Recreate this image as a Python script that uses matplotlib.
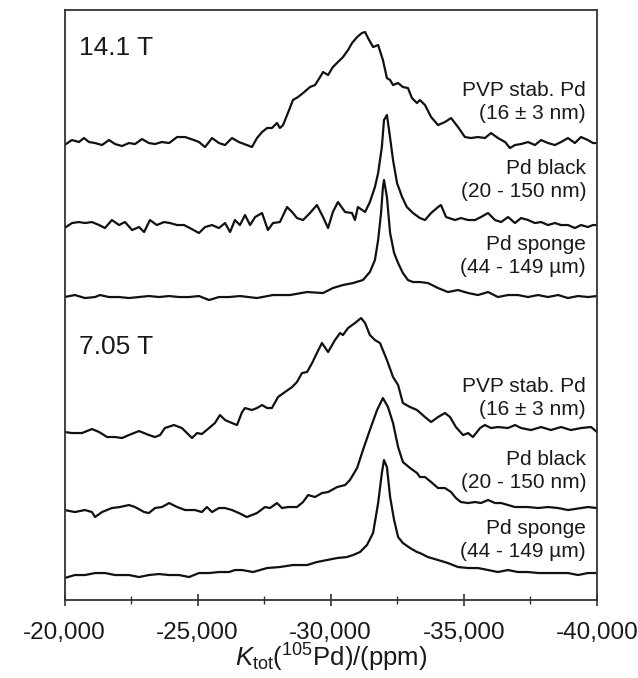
import matplotlib
matplotlib.use("Agg")
import matplotlib.pyplot as plt
from matplotlib.ticker import MultipleLocator, FuncFormatter

plt.rcParams['font.family'] = ['Liberation Sans', 'DejaVu Sans']
plt.rcParams['mathtext.fontset'] = 'custom'
plt.rcParams['mathtext.rm'] = 'Liberation Sans'
plt.rcParams['mathtext.it'] = 'Liberation Sans:italic'

# 14.1 T, PVP stabilised Pd (16 +- 3 nm)
pvp_hi_x = [-20000, -20280, -20540, -20730, -20920, -21150, -21410, -21670, -21900, -22160,
            -22420, -22650, -22910, -23170, -23400, -23660, -23930, -24230, -24530, -24860,
            -25050, -25280, -25540, -25800, -26030, -26290, -26550, -26850, -27040, -27230,
            -27420, -27610, -27790, -27980, -28090, -28210, -28390, -28580, -28770, -28960,
            -29220, -29410, -29600, -29710, -29900, -30080, -30270, -30460, -30650, -30800,
            -30990, -31170, -31290, -31400, -31590, -31780, -31960, -32110, -32230, -32340,
            -32530, -32710, -32900, -33050, -33240, -33350, -33540, -33770, -34030, -34290,
            -34520, -34780, -35040, -35270, -35530, -35790, -36020, -36280, -36550, -36730,
            -36920, -37150, -37410, -37670, -37900, -38160, -38420, -38650, -38910, -39170,
            -39400, -39660, -39850, -40000]
pvp_hi_y = [455, 460, 458, 462, 458, 457, 455, 460, 456, 454,
            457, 456, 461, 457, 456, 458, 457, 463, 463, 460,
            458, 453, 462, 457, 455, 462, 458, 455, 453, 462,
            468, 472, 472, 477, 472, 475, 487, 500, 503, 507,
            513, 515, 523, 528, 525, 533, 538, 543, 550, 557,
            563, 567, 568, 562, 553, 555, 540, 522, 520, 515,
            517, 513, 512, 502, 497, 500, 495, 483, 475, 478,
            482, 473, 463, 462, 463, 462, 467, 462, 458, 452,
            455, 456, 458, 455, 460, 457, 455, 458, 462, 457,
            463, 460, 457, 457]

# 14.1 T, Pd black (20 - 150 nm)
black_hi_x = [-20000, -20280, -20540, -20770, -21030, -21300, -21520, -21780, -22050, -22270,
              -22540, -22800, -22990, -23210, -23470, -23740, -23960, -24230, -24490, -24710,
              -25050, -25280, -25540, -25800, -26030, -26220, -26400, -26590, -26780, -26970,
              -27160, -27420, -27640, -27830, -28090, -28360, -28550, -28730, -28960, -29220,
              -29480, -29710, -29900, -30080, -30270, -30540, -30800, -30910, -31020, -31290,
              -31470, -31660, -31780, -31920, -32000, -32110, -32190, -32340, -32490, -32680,
              -32860, -33090, -33350, -33540, -33770, -34030, -34140, -34330, -34670, -34890,
              -35160, -35420, -35640, -35910, -36170, -36400, -36660, -36920, -37150, -37410,
              -37670, -37900, -38160, -38420, -38650, -38910, -39170, -39400, -39660, -39850,
              -40000]
black_hi_y = [372, 377, 378, 377, 378, 375, 372, 380, 375, 378,
              370, 373, 368, 380, 375, 378, 377, 375, 375, 372,
              367, 373, 375, 372, 377, 368, 380, 375, 385, 375,
              383, 387, 370, 377, 378, 393, 388, 382, 380, 387,
              395, 383, 372, 388, 398, 388, 387, 380, 393, 388,
              398, 413, 427, 453, 480, 485, 470, 440, 417, 403,
              393, 387, 382, 380, 387, 393, 395, 383, 380, 382,
              380, 380, 383, 387, 380, 378, 383, 377, 382, 380,
              377, 378, 375, 377, 375, 375, 372, 375, 373, 375,
              375]

# 14.1 T, Pd sponge (44 - 149 um)
sponge_hi_x = [-20000, -20390, -20770, -21150, -21330, -21670, -22050, -22420, -22800, -23170,
               -23550, -23930, -24300, -24680, -25050, -25430, -25800, -26180, -26590, -27230,
               -27830, -28470, -29110, -29710, -30080, -30460, -30840, -31210, -31470, -31660,
               -31780, -31890, -31960, -32000, -32110, -32230, -32380, -32530, -32710, -32900,
               -33090, -33350, -33650, -34030, -34400, -34780, -35160, -35530, -35910, -36280,
               -36660, -37030, -37410, -37790, -38160, -38540, -38910, -39290, -39660, -40000]
sponge_hi_y = [303, 305, 302, 303, 305, 303, 303, 302, 303, 304,
               303, 304, 303, 303, 304, 300, 303, 303, 304, 302,
               305, 305, 308, 307, 312, 315, 317, 320, 328, 340,
               360, 387, 413, 420, 403, 367, 347, 337, 327, 320,
               318, 318, 317, 312, 308, 310, 307, 305, 308, 303,
               305, 305, 303, 305, 303, 305, 302, 304, 303, 304]

# 7.05 T, PVP stabilised Pd
pvp_lo_x = [-20000, -20280, -20660, -21030, -21300, -21600, -21900, -22160, -22420, -22800,
            -23170, -23400, -23590, -23770, -24110, -24410, -24600, -24790, -24980, -25160,
            -25430, -25650, -25840, -26030, -26290, -26480, -26670, -26780, -27040, -27230,
            -27420, -27610, -27790, -28020, -28280, -28550, -28730, -28920, -29110, -29300,
            -29480, -29670, -29900, -30160, -30350, -30460, -30650, -30910, -31140, -31290,
            -31470, -31660, -31850, -32110, -32340, -32530, -32710, -32980, -33240, -33540,
            -33770, -34030, -34290, -34480, -34700, -34970, -35160, -35340, -35610, -35790,
            -36020, -36280, -36660, -36920, -37150, -37520, -37900, -38270, -38650, -39020,
            -39400, -39780, -40000]
pvp_lo_y = [168, 167, 167, 171, 168, 163, 163, 162, 165, 169,
            165, 163, 165, 172, 175, 172, 167, 162, 167, 166,
            172, 177, 185, 180, 177, 175, 188, 192, 190, 192,
            195, 192, 192, 203, 208, 213, 218, 227, 228, 237,
            247, 257, 248, 260, 267, 265, 272, 277, 282, 277,
            265, 260, 257, 240, 223, 215, 197, 193, 190, 183,
            178, 183, 187, 183, 173, 165, 167, 163, 172, 175,
            172, 173, 172, 175, 172, 170, 173, 170, 173, 170,
            172, 173, 168]

# 7.05 T, Pd black
black_lo_x = [-20000, -20390, -20770, -21030, -21150, -21410, -21780, -22080, -22420, -22650,
              -22990, -23170, -23400, -23660, -23930, -24230, -24530, -24900, -25160, -25350,
              -25540, -25800, -26030, -26290, -26550, -26850, -27230, -27530, -27720, -27980,
              -28170, -28390, -28730, -28960, -29150, -29410, -29670, -29900, -30240, -30540,
              -30720, -30990, -31210, -31470, -31740, -31960, -32150, -32340, -32530, -32710,
              -32980, -33240, -33350, -33540, -33770, -34030, -34290, -34520, -34700, -34890,
              -35160, -35420, -35640, -35910, -36170, -36400, -36660, -36920, -37150, -37410,
              -37790, -38160, -38540, -38910, -39660, -40000]
black_lo_y = [90, 88, 90, 88, 83, 88, 92, 93, 95, 93,
              88, 87, 92, 93, 97, 93, 90, 90, 88, 93,
              88, 92, 92, 90, 87, 83, 87, 93, 92, 97,
              92, 93, 93, 98, 105, 103, 107, 108, 113, 115,
              120, 132, 150, 170, 190, 202, 193, 177, 153, 138,
              132, 127, 123, 123, 118, 112, 112, 108, 102, 98,
              97, 98, 97, 100, 97, 97, 95, 93, 93, 93,
              92, 93, 92, 90, 93, 92]

# 7.05 T, Pd sponge
sponge_lo_x = [-20000, -20390, -20770, -21150, -21520, -21900, -22420, -22800, -23170, -23550,
               -23930, -24300, -24680, -25050, -25430, -25800, -26180, -26400, -26670, -27080,
               -27610, -28090, -28580, -29110, -29480, -29860, -30240, -30610, -30840, -31100,
               -31360, -31590, -31780, -31920, -32000, -32110, -32230, -32380, -32530, -32710,
               -32980, -33240, -33350, -33650, -34030, -34400, -34780, -35160, -35530, -35910,
               -36280, -36660, -37030, -37410, -37790, -38160, -38540, -38910, -39290, -39660,
               -40000]
sponge_lo_y = [22, 25, 25, 27, 27, 25, 25, 23, 25, 26,
               25, 25, 23, 27, 27, 28, 28, 30, 30, 28,
               32, 33, 35, 35, 38, 40, 42, 43, 45, 48,
               55, 67, 97, 127, 140, 133, 103, 80, 63, 57,
               52, 48, 47, 43, 40, 37, 33, 32, 32, 30,
               28, 30, 28, 28, 27, 27, 27, 27, 25, 27,
               27]

traces = [(pvp_hi_x, pvp_hi_y), (black_hi_x, black_hi_y), (sponge_hi_x, sponge_hi_y),
          (pvp_lo_x, pvp_lo_y), (black_lo_x, black_lo_y), (sponge_lo_x, sponge_lo_y)]

sample_labels = ["PVP stab. Pd\n(16 \u00b1 3 nm)", "Pd black\n(20 - 150 nm)", "Pd sponge\n(44 - 149 \u00b5m)"]
label_heights_hi = [498, 420, 344]
label_heights_lo = [202, 129, 60]
field_labels = ["14.1 T", "7.05 T"]
field_heights = [552, 253]

fig = plt.figure(figsize=(6.38, 6.78), dpi=100)
ax = fig.add_axes([0.1011, 0.1150, 0.8346, 0.8702])

for xs, ys in traces:
    ax.plot(xs, ys, color='#111111', lw=1.6, solid_joinstyle='round')

for heights in (label_heights_hi, label_heights_lo):
    for lab, h in zip(sample_labels, heights):
        ax.text(-39590, h, lab, ha='right', va='center', multialignment='right',
                fontsize=15, color='#1a1a1a', linespacing=1.22)
for lab, h in zip(field_labels, field_heights):
    ax.text(-20545, h, lab, ha='left', va='center', fontsize=19, color='#1a1a1a')

ax.set_xlim(-20000, -40000)
ax.set_ylim(0, 590)
ax.set_yticks([])
ax.xaxis.set_major_locator(MultipleLocator(5000))
ax.xaxis.set_minor_locator(MultipleLocator(2500))
ax.xaxis.set_major_formatter(FuncFormatter(lambda v, p: f"{int(round(v)):,}"))
ax.tick_params(axis='x', which='major', direction='inout', length=9, width=1.2,
               labelsize=17.5, colors='#333333', labelcolor='#1a1a1a', pad=11)
ax.tick_params(axis='x', which='minor', direction='inout', length=6, width=1.0, colors='#333333')
for sp in ax.spines.values():
    sp.set_linewidth(1.3)
    sp.set_color('#333333')

ax.set_xlabel(r'$K_{\rm tot}$($^{105}$Pd)/(ppm)', fontsize=18.5, color='#1a1a1a', labelpad=-1)

fig.savefig('out.png', dpi=100)
